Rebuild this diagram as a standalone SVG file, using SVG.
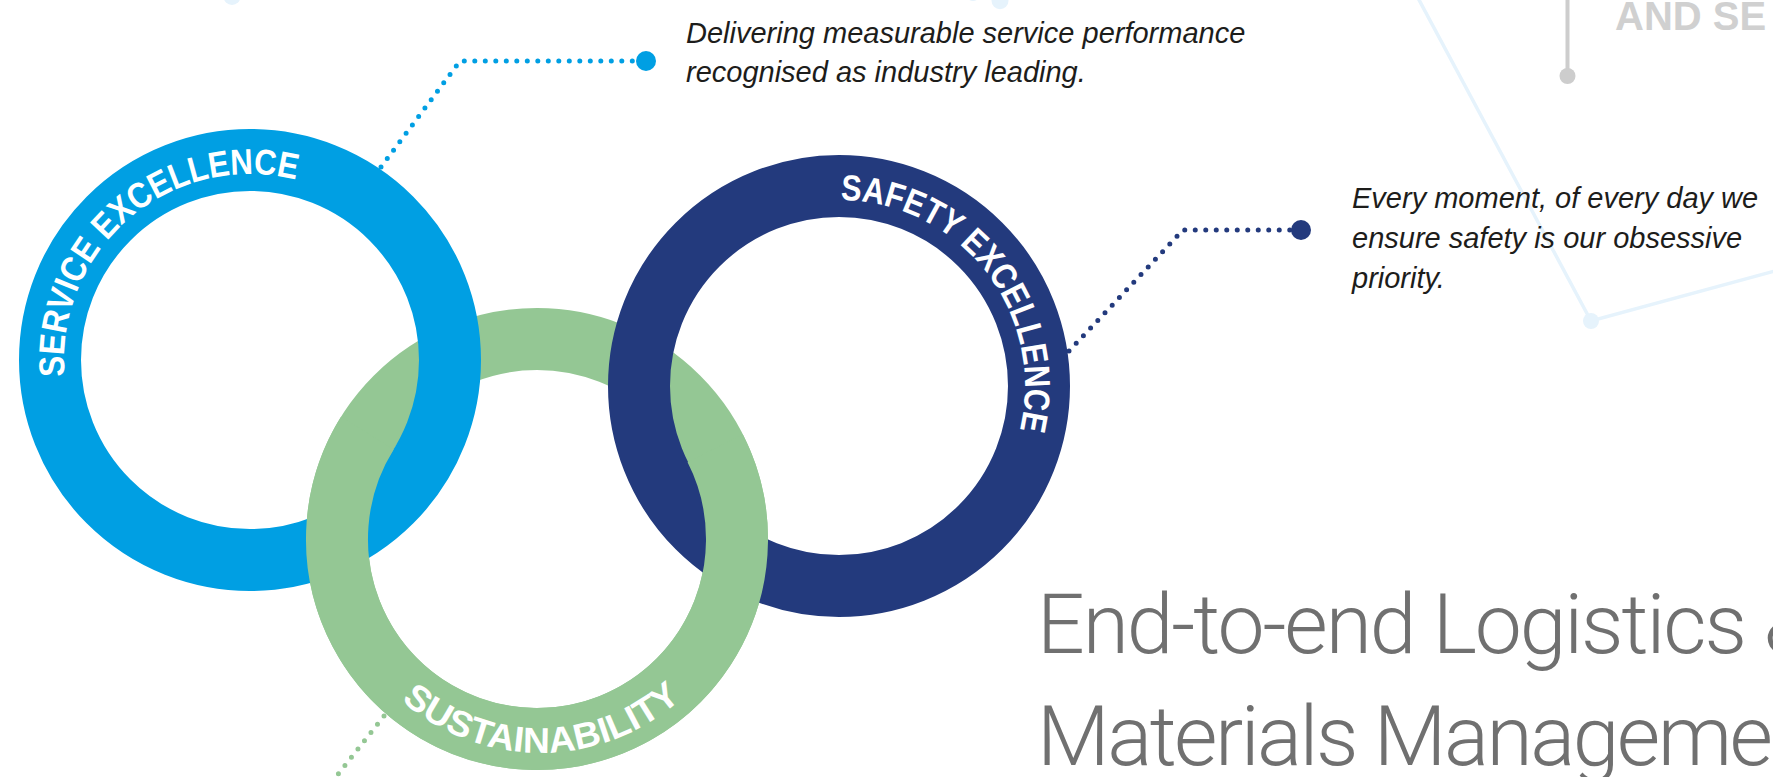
<svg xmlns="http://www.w3.org/2000/svg" width="1773" height="777" viewBox="0 0 1773 777">
  <style>
    .ring { fill: none; stroke-width: 62; }
    .blue { stroke: #009FE3; }
    .navy { stroke: #233A7D; }
    .green { stroke: #94C794; }
    .ringtext { font-family: "Liberation Sans", Arial, sans-serif; font-weight: 700; font-size: 36px; fill: #FFFFFF; }
    .note { font-family: "Liberation Sans", Arial, sans-serif; font-style: italic; font-size: 29px; fill: #1D1D1B; }
    .title { font-family: Roboto, "Noto Sans", sans-serif; font-weight: 300; font-size: 84px; fill: #707070; }
    .dots { fill: none; stroke-width: 5; stroke-linecap: round; stroke-linejoin: round; stroke-dasharray: 0 10.5; }
    .pale { stroke: #E6F3FC; stroke-width: 3.5; fill: none; }
  </style>
  <defs>
    <path id="pathService" d="M 64.7 376.2 A 186 186 0 1 1 435.3 343.8 A 186 186 0 1 1 64.7 376.2"/>
    <path id="pathSafety" d="M 840.6 200 A 186 186 0 1 1 837.4 572 A 186 186 0 1 1 840.6 200"/>
    <path id="pathSustain" d="M 401.4 700.6 A 211 211 0 1 0 672.6 377.4 A 211 211 0 1 0 401.4 700.6"/>
  </defs>

  <rect width="1773" height="777" fill="#FFFFFF"/>

  <!-- faint background network -->
  <g id="background">
    <circle cx="232" cy="-3.5" r="8.5" fill="#E6F3FC"/>
    <circle cx="973" cy="-6" r="7" fill="#E6F3FC"/>
    <circle cx="1000" cy="0.8" r="8.5" fill="#E6F3FC"/>
    <polyline class="pale" points="1418,-2 1591,321 1775,271"/>
    <circle cx="1591" cy="321" r="8" fill="#E6F3FC"/>
    <line x1="1567.5" y1="-2" x2="1567.5" y2="76" stroke="#CDCDCD" stroke-width="4"/>
    <circle cx="1567.5" cy="76" r="8" fill="#CDCDCD"/>
    <text x="1615" y="30" font-family="'Liberation Sans', Arial, sans-serif" font-weight="700" font-size="40" fill="#D0D0D0">AND SE</text>
  </g>

  <!-- back part of the green ring -->
  <g id="sustainability-back">
    <circle class="ring green" cx="537" cy="539" r="200"/>
  </g>

  <g id="service">
    <circle class="ring blue" cx="250" cy="360" r="200"/>
    <text class="ringtext"><textPath href="#pathService" textLength="355" lengthAdjust="spacingAndGlyphs">SERVICE EXCELLENCE</textPath></text>
  </g>

  <g id="safety">
    <circle class="ring navy" cx="839" cy="386" r="200"/>
    <text class="ringtext"><textPath href="#pathSafety" textLength="335" lengthAdjust="spacingAndGlyphs">SAFETY EXCELLENCE</textPath></text>
  </g>

  <g id="sustainability">
    <path class="ring green" d="M 715.2 448.2 A 200 200 0 1 1 367.4 433"/>
    <text class="ringtext"><textPath href="#pathSustain" textLength="306" lengthAdjust="spacingAndGlyphs">SUSTAINABILITY</textPath></text>
  </g>

  <g id="connectors">
    <polyline class="dots" stroke="#009FE3" points="381,167 460,61 636,61"/>
    <circle cx="646" cy="61" r="10" fill="#009FE3"/>
    <polyline class="dots" stroke="#233A7D" points="1069,351 1183,230 1291,230"/>
    <circle cx="1301" cy="230" r="10" fill="#233A7D"/>
    <line class="dots" stroke="#94C794" x1="384" y1="716" x2="316" y2="802"/>
  </g>

  <g id="service-note">
    <text class="note" x="686" y="43">Delivering measurable service performance</text>
    <text class="note" x="686" y="82">recognised as industry leading.</text>
  </g>

  <g id="safety-note">
    <text class="note" x="1352" y="208">Every moment, of every day we</text>
    <text class="note" x="1352" y="248">ensure safety is our obsessive</text>
    <text class="note" x="1352" y="288">priority.</text>
  </g>

  <g id="title">
    <text class="title" x="1037" y="653" textLength="778" lengthAdjust="spacing">End-to-end Logistics &amp;</text>
    <text class="title" x="1037" y="765" textLength="736" lengthAdjust="spacing">Materials Manageme</text>
  </g>
</svg>
